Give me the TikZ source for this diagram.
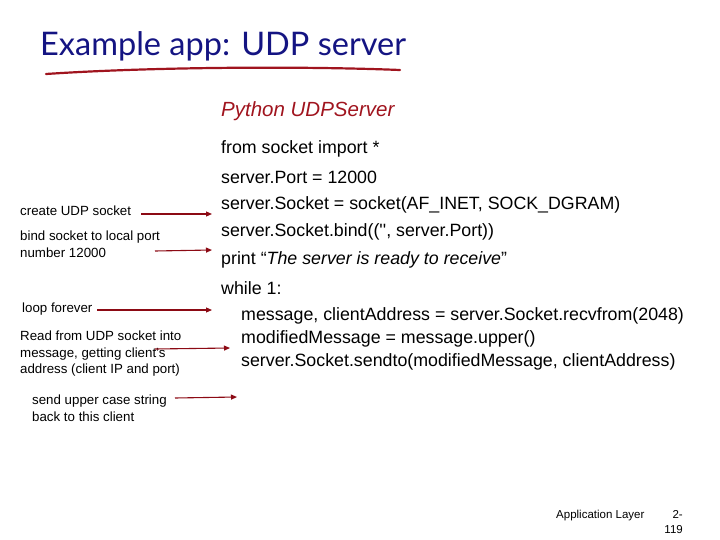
\documentclass[tikz,border=0pt]{standalone}
\usepackage{fontspec}
\setmainfont{Liberation Sans}
\newfontfamily\titlefont{Lato}
\usetikzlibrary{arrows.meta}
\definecolor{navy}{RGB}{20,20,130}
\definecolor{dred}{RGB}{160,20,30}
\definecolor{arr}{RGB}{140,10,20}
\begin{document}
\begin{tikzpicture}[x=1pt,y=-1pt,
  code/.style={anchor=west,inner sep=0,font=\fontsize{17.8}{20}\selectfont},
  note/.style={anchor=north west,inner sep=0,align=left,font=\fontsize{13.3}{16.5}\selectfont},
  link/.style={draw=arr,line width=1.1pt,-{Triangle[length=6pt,width=5pt]}}]
\useasboundingbox (0,0) rectangle (720,540);
\node[anchor=west,inner sep=0,text=navy,font=\titlefont\fontsize{32.5}{36}\selectfont] (title) at (40,46) {Example app: UDP server};
\draw[dred,line width=2.2pt,line cap=round] (46,74) .. controls (150,67) and (300,66) .. (400,70);
\node[code,text=dred,font=\itshape\fontsize{20.5}{24}\selectfont] (py) at (221,111) {Python UDPServer};
\node[code] (c1) at (221,149) {from socket import *};
\node[code] (c2) at (221,177) {server.Port = 12000};
\node[code] (c3) at (221,205) {server.Socket = socket(AF\_INET, SOCK\_DGRAM)};
\node[code] (c4) at (221,232) {server.Socket.bind((\textquotesingle\textquotesingle, server.Port))};
\node[code] (c5) at (221,260) {print “\textit{The server is ready to receive}”};
\node[code] (c6) at (221,288) {while 1:};
\node[code] (c7) at (241,316) {message, clientAddress = server.Socket.recvfrom(2048)};
\node[code] (c8) at (241,339) {modifiedMessage = message.upper()};
\node[code] (c9) at (241,362) {server.Socket.sendto(modifiedMessage, clientAddress)};
\node[note] (n1) at (20,206) {create UDP socket};
\node[note] (n2) at (20,231) {bind socket to local port\\number 12000};
\node[note] (n3) at (22,303) {loop forever};
\node[note] (n4) at (20,331) {Read from UDP socket into\\message, getting client's\\address (client IP and port)};
\node[note] (n5) at (32,395) {send upper case string\\back to this client};
\coordinate (a1s) at (141,214); \coordinate (a1e) at (212,214);
\coordinate (a2s) at (155,251); \coordinate (a2e) at (212,250);
\coordinate (a3s) at (97,310);  \coordinate (a3e) at (212,310);
\coordinate (a4s) at (155,349); \coordinate (a4e) at (230,348);
\coordinate (a5s) at (175,398); \coordinate (a5e) at (237,397);
\draw[link] (a1s) -- (a1e);
\draw[link] (a2s) -- (a2e);
\draw[link] (a3s) -- (a3e);
\draw[link] (a4s) -- (a4e);
\draw[link] (a5s) -- (a5e);
\node[anchor=west,inner sep=0,font=\fontsize{11.5}{13}\selectfont] (f1) at (556,516) {Application Layer};
\node[anchor=north east,inner sep=0,align=right,font=\fontsize{11.5}{15}\selectfont] (f2) at (683,510) {2-\\119};
\end{tikzpicture}
\end{document}
